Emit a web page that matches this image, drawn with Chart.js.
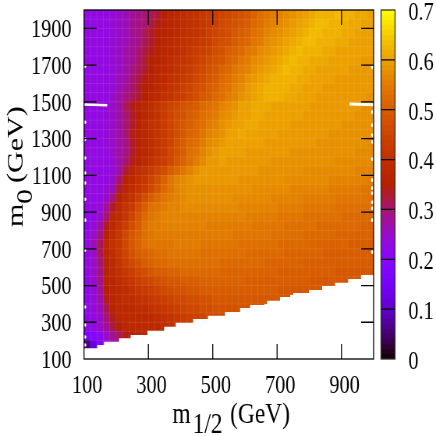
<!DOCTYPE html>
<html>
<head>
<meta charset="utf-8">
<style>
html,body{margin:0;padding:0;background:#fff;width:436px;height:436px;overflow:hidden}
canvas{position:absolute;top:0;transform:scaleX(.78);transform-origin:0 0}
</style>
<script src="https://cdn.jsdelivr.net/npm/chart.js"></script>
</head>
<body>
<canvas id="main" width="485" height="436" style="left:0"></canvas>
<canvas id="bar" width="77" height="436" style="left:376px"></canvas>
<script>
const xTickValues = [100,300,500,700,900];
const yTickValues = [100,300,500,700,900,1100,1300,1500,1700,1900];
const barTickValues = [0,0.1,0.2,0.3,0.4,0.5,0.6,0.7];
const xCenters = [110,130,150,170,190,210,230,250,270,290,310,330,350,370,390,410,430,450,470,490,510,530,550,570,590,610,630,650,670,690,710,730,750,770,790,810,830,850,870,890,910,930,950,970,990];
const yCenters = [1975,1925,1875,1825,1775,1725,1675,1625,1575,1525,1475,1425,1375,1325,1275,1225,1175,1125,1075,1025,975,925,875,825,775,725,675,625,575,525,475,425,375,325,275,225,175];
// value x 100 per cell, one row per yCenters entry, 0 = no cell
const cellValues = [
[23,23,23,23,24,25,26,28,29,30,31,33,35,37,38,39,40,41,42,43,44,45,46,47,48,49,51,53,54,55,56,57,58,59,60,61,62,62,62,63,62,62,61,61,60],
[23,23,23,23,24,25,26,28,29,30,32,34,36,37,38,39,40,41,42,43,44,46,47,48,49,50,52,53,55,56,57,58,59,60,61,62,63,63,62,62,62,61,61,60,60],
[23,23,23,23,24,25,26,28,29,31,33,35,36,37,38,39,40,41,42,44,45,46,47,49,50,51,53,54,56,57,58,59,60,61,62,63,63,62,62,62,61,61,60,60,60],
[23,23,23,23,24,25,26,28,29,31,33,35,37,38,39,40,41,42,43,44,46,47,48,50,51,52,54,55,57,58,59,60,61,62,63,63,62,62,62,61,61,60,60,60,60],
[23,23,23,23,24,25,27,28,30,32,34,36,37,38,39,40,42,43,44,45,47,48,50,51,52,54,55,57,58,59,60,61,62,63,62,62,62,61,61,60,60,60,60,60,60],
[23,23,23,23,24,25,27,28,30,33,35,36,37,39,40,41,42,44,45,47,48,49,51,52,54,55,57,58,59,60,61,62,63,62,62,61,61,61,60,60,60,60,60,59,59],
[23,23,23,23,24,25,27,29,31,33,35,37,38,39,41,42,43,45,46,48,49,51,52,54,55,56,58,59,60,61,62,63,62,62,61,61,60,60,60,60,60,59,59,59,59],
[23,23,23,23,24,26,27,30,32,34,36,37,38,40,41,43,44,46,47,49,50,52,53,55,56,58,59,60,61,62,62,62,62,61,61,60,60,60,60,59,59,59,59,59,59],
[23,23,23,23,24,26,28,30,33,35,36,38,39,41,42,44,45,47,48,50,51,53,54,56,57,59,60,61,62,62,62,62,61,61,60,60,60,59,59,59,59,59,59,59,59],
[23,23,23,23,25,27,29,31,33,35,37,38,40,41,43,44,46,47,49,50,52,53,55,56,58,59,60,61,62,62,62,61,61,60,60,60,59,59,59,59,59,59,59,59,58],
[23,23,23,24,25,27,31,34,36,37,39,41,43,45,46,48,49,50,52,53,54,56,57,58,60,60,61,61,61,60,60,60,60,60,60,59,59,59,59,59,59,59,59,58,58],
[23,23,23,24,25,27,30,33,35,37,39,41,43,45,47,48,50,51,53,54,55,57,58,59,60,60,61,61,60,60,60,60,60,60,59,59,59,59,59,59,59,59,58,58,58],
[23,23,23,24,25,27,30,33,36,38,40,41,43,45,47,49,50,52,53,55,56,58,59,60,60,61,61,60,60,60,60,60,59,59,59,59,59,59,59,59,58,58,58,58,58],
[23,23,23,24,25,27,30,34,36,37,39,41,43,45,47,49,51,52,54,56,57,58,60,60,61,60,60,60,60,60,59,59,59,59,59,59,59,59,58,58,58,58,58,58,58],
[23,23,23,24,25,27,29,33,36,37,39,41,43,45,48,50,52,53,55,57,58,59,60,60,60,60,60,60,59,59,59,59,59,59,59,59,58,58,58,58,58,58,58,58,57],
[23,23,23,23,25,27,29,33,36,37,39,41,43,46,48,50,53,54,56,58,59,60,60,60,60,59,59,59,59,59,59,59,58,58,58,58,58,58,58,58,58,58,57,57,57],
[23,23,23,23,24,27,30,34,36,38,40,42,44,46,49,51,53,55,57,59,59,60,59,59,59,59,59,59,59,58,58,58,58,58,58,58,58,58,58,57,57,57,57,57,57],
[23,23,23,23,24,27,33,37,39,41,43,45,47,50,52,54,56,58,59,59,59,59,59,59,59,59,59,58,58,58,58,58,58,58,57,57,57,57,57,57,57,57,56,56,56],
[23,23,23,23,25,30,36,38,40,42,45,48,51,54,56,57,58,59,59,59,59,59,59,59,58,58,58,58,58,58,58,57,57,57,57,57,57,57,56,56,56,56,56,56,55],
[23,23,23,24,26,33,37,39,41,43,46,49,52,54,56,57,58,58,58,58,58,58,58,58,58,58,57,57,57,57,57,57,56,56,56,56,56,56,55,55,55,55,55,54,54],
[23,23,23,25,29,36,39,41,44,47,50,52,54,55,56,57,58,58,58,58,58,58,58,57,57,57,57,57,57,56,56,56,56,56,55,55,55,55,55,54,54,54,54,54,53],
[23,23,24,28,33,38,41,43,47,50,53,54,55,56,56,57,57,57,57,57,57,57,57,57,56,56,56,56,56,56,55,55,55,55,54,54,54,54,54,53,53,53,53,53,53],
[22,23,25,30,37,39,42,45,49,52,54,55,56,56,56,56,56,56,56,56,56,56,56,56,56,55,55,55,55,55,54,54,54,54,53,53,53,53,53,53,52,52,52,52,52],
[22,24,27,34,38,41,44,47,50,53,55,55,56,56,56,56,56,56,56,55,55,55,55,55,55,55,54,54,54,54,54,53,53,53,53,53,52,52,52,52,52,52,52,51,51],
[23,25,29,36,39,42,46,49,51,53,54,55,55,55,55,55,55,55,55,55,55,55,55,54,54,54,54,54,54,53,53,53,53,53,52,52,52,52,52,51,51,51,51,51,51],
[23,26,31,37,40,42,46,49,51,53,54,54,54,54,55,55,55,55,54,54,54,54,54,54,53,53,53,53,53,53,52,52,52,52,52,51,51,51,51,51,51,50,50,50,50],
[23,25,31,37,39,42,45,48,50,51,52,53,53,54,54,54,54,54,53,53,53,53,53,53,53,52,52,52,52,52,52,51,51,51,51,51,51,50,50,50,50,50,50,50,50],
[23,25,30,36,38,41,44,46,48,50,51,52,52,53,53,53,53,53,53,53,53,52,52,52,52,52,52,52,51,51,51,51,51,51,50,50,50,50,50,50,50,50,50,50,50],
[23,25,29,36,38,40,42,44,46,47,49,50,50,51,51,52,52,52,52,52,52,51,51,51,51,51,51,51,51,51,50,50,50,50,50,50,50,50,50,49,49,49,49,49,49],
[22,25,29,36,37,39,41,42,44,45,46,47,48,49,49,50,50,50,51,51,51,51,51,51,51,50,50,50,50,50,50,50,50,50,50,49,49,49,49,49,49,49,49,49,49],
[22,24,28,35,37,38,39,40,42,43,44,45,46,47,48,48,49,49,50,50,50,50,50,50,50,50,50,50,50,50,49,49,49,49,49,49,49,49,49,49,49,49,49,49,49],
[22,24,27,34,37,38,39,39,40,41,42,43,44,45,46,46,47,47,48,48,49,49,49,49,49,49,49,49,49,49,49,49,0,0,0,0,0,0,0,0,0,0,0,0,0],
[22,24,26,32,36,38,38,38,39,39,40,41,42,43,44,45,46,46,47,47,48,48,48,48,48,48,48,48,0,0,0,0,0,0,0,0,0,0,0,0,0,0,0,0,0],
[22,23,25,30,34,37,38,38,38,38,38,39,40,41,42,43,44,44,45,46,46,46,0,0,0,0,0,0,0,0,0,0,0,0,0,0,0,0,0,0,0,0,0,0,0],
[22,23,25,28,32,35,37,38,38,38,38,38,39,40,41,41,42,0,0,0,0,0,0,0,0,0,0,0,0,0,0,0,0,0,0,0,0,0,0,0,0,0,0,0,0],
[17,19,22,25,28,31,34,36,37,37,0,0,0,0,0,0,0,0,0,0,0,0,0,0,0,0,0,0,0,0,0,0,0,0,0,0,0,0,0,0,0,0,0,0,0],
[6,12,19,24,26,27,0,0,0,0,0,0,0,0,0,0,0,0,0,0,0,0,0,0,0,0,0,0,0,0,0,0,0,0,0,0,0,0,0,0,0,0,0,0,0]
];
const boundaryX = [100,141,162,209,245,297,349,385,439,485,538,585,616,669,709,750,799,840,880,921,961,1000];
const boundaryY = [158,176,194,213,231,254,276,298,318,336,356,377,394,417,437,459,475,497,515,535,557,557];
const leftNotchY = [1694,1389,1297,1194,1112,1058,970,856,693,383,285,220,176];
const rightNotchY = [1689,1444,1373,1319,1281,1188,1074,1030,1003,954,920,856,682];
const gashLeftX = [100,172], gashLeftY = [1486,1482];
const gashRightX = [925,1000], gashRightY = [1488,1484];
const colorbarLevels = [0,.01,.02,.03,.04,.05,.06,.07,.08,.09,.1,.11,.12,.13,.14,.15,.16,.17,.18,.19,.2,.21,.22,.23,.24,.25,.26,.27,.28,.29,.3,.31,.32,.33,.34,.35,.36,.37,.38,.39,.4,.41,.42,.43,.44,.45,.46,.47,.48,.49,.5,.51,.52,.53,.54,.55,.56,.57,.58,.59,.6,.61,.62,.63,.64,.65,.66,.67,.68,.69];

const SERIF = '"Liberation Serif","Times New Roman",serif';
const cbMax = 0.7;
function paletteColor(v){
  const t = Math.min(1, Math.max(0, v / cbMax));
  const r = Math.sqrt(t), g = t*t*t, b = Math.max(0, Math.sin(2*Math.PI*t));
  return `rgb(${Math.round(r*255)},${Math.round(g*255)},${Math.round(b*255)})`;
}
const styleCache = new Map();
function cellStyle(v, w, h){
  const key = v + '|' + w + '|' + h;
  if (!styleCache.has(key)) {
    const c = document.createElement('canvas');
    c.width = Math.max(1, w); c.height = Math.max(1, h);
    const g = c.getContext('2d');
    g.fillStyle = paletteColor(v);
    g.fillRect(0, 0, c.width, c.height);
    styleCache.set(key, c);
  }
  return styleCache.get(key);
}
const cells = [];
yCenters.forEach((y, r) => xCenters.forEach((x, c) => {
  const v = cellValues[r][c];
  if (v > 0) cells.push({x, y, v: v / 100});
}));
const boundary = boundaryX.map((x, i) => ({x, y: boundaryY[i]}));
const notches = leftNotchY.map(y => ({x: 103, y})).concat(rightNotchY.map(y => ({x: 996, y})));

const seams = {
  id: 'seams',
  beforeDatasetDraw(chart, args) {
    if (chart.data.datasets[args.index].label !== 'excluded') return;
    const {ctx, chartArea: a, scales: {x, y}} = chart;
    ctx.save();
    ctx.strokeStyle = 'rgba(255,255,255,.09)';
    ctx.lineWidth = 1;
    ctx.beginPath();
    xCenters.forEach(v => { const p = x.getPixelForValue(v + 10); ctx.moveTo(p, a.top); ctx.lineTo(p, a.bottom); });
    yCenters.forEach(v => { const p = y.getPixelForValue(v + 25); ctx.moveTo(a.left, p); ctx.lineTo(a.right, p); });
    ctx.stroke();
    ctx.restore();
  }
};
const frameAndTicks = {
  id: 'frameAndTicks',
  afterDatasetsDraw(chart) {
    const {ctx, chartArea: a, scales: {x, y}} = chart;
    ctx.save();
    ctx.strokeStyle = '#000';
    ctx.lineWidth = 1.3;
    ctx.beginPath();
    xTickValues.slice(1).forEach(v => {
      const p = x.getPixelForValue(v);
      ctx.moveTo(p, a.bottom); ctx.lineTo(p, a.bottom - 15);
      ctx.moveTo(p, a.top); ctx.lineTo(p, a.top + 15);
    });
    yTickValues.slice(1).forEach(v => {
      const p = y.getPixelForValue(v);
      ctx.moveTo(a.left, p); ctx.lineTo(a.left + 16, p);
      ctx.moveTo(a.right, p); ctx.lineTo(a.right - 16, p);
    });
    ctx.stroke();
    ctx.strokeRect(a.left, a.top, a.right - a.left, a.bottom - a.top);
    ctx.restore();
  }
};
const axisTitles = {
  id: 'axisTitles',
  afterDraw(chart) {
    const {ctx} = chart;
    const s = 30;
    ctx.save();
    ctx.fillStyle = '#000';
    ctx.textBaseline = 'alphabetic';
    ctx.textAlign = 'left';
    ctx.font = `${s}px ${SERIF}`;
    ctx.fillText('m', 221, 423);
    ctx.fillText('1/2', 247, 433);
    ctx.fillText('(GeV)', 295, 423);
    ctx.translate(29, 227);
    ctx.rotate(-Math.PI / 2);
    ctx.fillText('m', 0, 0);
    ctx.fillText('0', 23, 12);
    ctx.fillText('(GeV)', 44, 0);
    ctx.restore();
  }
};

new Chart(document.getElementById('main'), {
  type: 'scatter',
  data: {datasets: [
    {label: 'gash left', type: 'line', data: gashLeftX.map((x,i)=>({x,y:gashLeftY[i]})), borderColor: '#fff', borderWidth: 2.5, pointRadius: 0, order: 0},
    {label: 'gash right', type: 'line', data: gashRightX.map((x,i)=>({x,y:gashRightY[i]})), borderColor: '#fff', borderWidth: 3, pointRadius: 0, order: 0},
    {label: 'notches', data: notches, backgroundColor: '#fff', borderWidth: 0, pointRadius: 1.8, order: 0},
    {label: 'excluded', type: 'line', data: boundary, stepped: true, fill: 'start', backgroundColor: '#fff', borderColor: '#fff', borderWidth: 0, pointRadius: 0, order: 1},
    {label: 'value', data: cells, order: 2, pointRadius: 5, borderWidth: 0,
      pointStyle(c) {
        const d = c.raw; if (!d) return 'rect';
        const X = c.chart.scales.x, Y = c.chart.scales.y;
        const w = Math.abs(X.getPixelForValue(120) - X.getPixelForValue(100));
        const h = Math.abs(Y.getPixelForValue(150) - Y.getPixelForValue(100));
        return cellStyle(d.v, Math.ceil(w), Math.ceil(h));
      }}
  ]},
  options: {
    responsive: false, animation: false, devicePixelRatio: 1,
    layout: {padding: {top: 10, left: 0, right: 6, bottom: 0}},
    plugins: {legend: {display: false}, tooltip: {enabled: false}},
    scales: {
      x: {type: 'linear', min: 100, max: 1000, grid: {display: false}, border: {display: false},
        afterBuildTicks: s => { s.ticks = xTickValues.map(value => ({value})); },
        afterFit: s => { s.height = 77; s.paddingLeft = 0; s.paddingRight = 0; },
        ticks: {color: '#000', font: {family: SERIF, size: 26}, padding: 4, labelOffset: 4, maxRotation: 0, autoSkip: false, callback: v => String(v)}},
      y: {type: 'linear', min: 100, max: 2000, grid: {display: false}, border: {display: false},
        afterBuildTicks: s => { s.ticks = yTickValues.map(value => ({value})); },
        afterFit: s => { s.width = 107.7; s.paddingTop = 0; s.paddingBottom = 0; },
        ticks: {color: '#000', font: {family: SERIF, size: 26}, padding: 8, labelOffset: 2, autoSkip: false, callback: v => String(v)}}
    }
  },
  plugins: [seams, frameAndTicks, axisTitles]
});

const barFrame = {
  id: 'barFrame',
  afterDatasetsDraw(chart) {
    const {ctx, chartArea: a, scales: {y}} = chart;
    ctx.save();
    ctx.strokeStyle = '#000';
    ctx.lineWidth = 1.3;
    ctx.beginPath();
    barTickValues.slice(1, -1).forEach(v => {
      const p = y.getPixelForValue(v);
      ctx.moveTo(a.left, p); ctx.lineTo(a.right, p);
    });
    ctx.stroke();
    ctx.strokeStyle = '#333';
    ctx.strokeRect(a.left, a.top, a.right - a.left, a.bottom - a.top);
    ctx.restore();
  }
};
new Chart(document.getElementById('bar'), {
  type: 'scatter',
  data: {datasets: [{label: 'colorbar', data: colorbarLevels.map(v => ({x: 0.5, y: v + 0.005, v})), pointRadius: 5, borderWidth: 0,
    pointStyle(c) {
      const d = c.raw; if (!d) return 'rect';
      const a = c.chart.chartArea, Y = c.chart.scales.y;
      const h = Math.abs(Y.getPixelForValue(0.01) - Y.getPixelForValue(0));
      return cellStyle(d.y, Math.ceil(a ? a.right - a.left : 18), Math.ceil(h));
    }}]},
  options: {
    responsive: false, animation: false, devicePixelRatio: 1,
    layout: {padding: {top: 10, left: 6.4, right: 0, bottom: 77}},
    plugins: {legend: {display: false}, tooltip: {enabled: false}},
    scales: {
      x: {type: 'linear', min: 0, max: 1, display: false},
      y: {type: 'linear', position: 'right', min: 0, max: 0.7, grid: {display: false}, border: {display: false},
        afterBuildTicks: s => { s.ticks = barTickValues.map(value => ({value})); },
        afterFit: s => { s.width = 52.6; s.paddingTop = 0; s.paddingBottom = 0; },
        ticks: {color: '#000', font: {family: SERIF, size: 26}, padding: 9, labelOffset: 3, autoSkip: false, callback: v => String(v)}}
    }
  },
  plugins: [barFrame]
});
</script>
</body>
</html>
